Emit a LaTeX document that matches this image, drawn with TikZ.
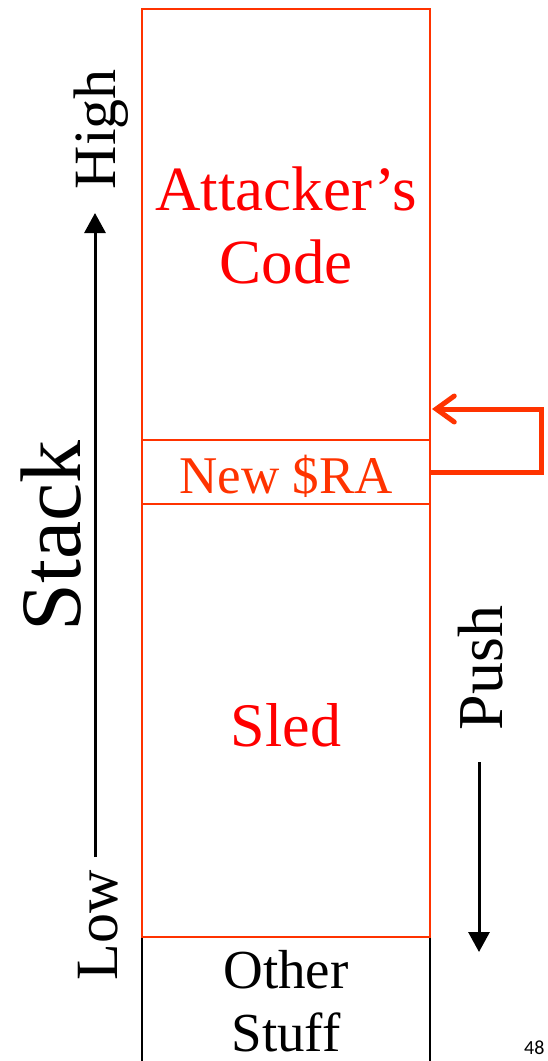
\documentclass[tikz,border=0pt]{standalone}
\usepackage{fontspec}
\setmainfont{Liberation Serif}
\newfontfamily\numfont{Carlito}
\usetikzlibrary{arrows.meta}
\definecolor{boxred}{HTML}{FF3300}
\definecolor{txtred}{HTML}{FF0000}
\tikzset{
  lbl/.style={inner sep=0pt, anchor=base},
  vlbl/.style={inner sep=0pt, anchor=base, rotate=90},
  axis/.style={line width=3pt, -{Triangle[length=20pt,width=21pt]}},
  cell/.style={draw=boxred, line width=2.7pt},
}
\begin{document}
\begin{tikzpicture}[x=1pt,y=-1pt]
\useasboundingbox (0,0) rectangle (548,1061);
\clip (0,0) rectangle (548,1061);
% other stuff (black)
\draw[line width=2.5pt] (142,937) -- (142,1070);
\draw[line width=2.5pt] (430,937) -- (430,1070);
% red cells
\draw[cell] (142,9) rectangle (430,440);
\draw[cell] (142,440) rectangle (430,504);
\draw[cell] (142,504) rectangle (430,937);
\coordinate (raR) at (430,472);
\coordinate (tgt) at (432,409);
\draw[boxred, line width=5pt, line join=miter, -{Straight Barb[length=18pt,width=26pt,line cap=round]}]
  (raR) -- (541,472) -- (541,409) -- (tgt);
% texts
\node[lbl, font=\fontsize{63}{63}\selectfont, text=txtred] (att) at (286,210) {Attacker’s};
\node[lbl, font=\fontsize{63}{63}\selectfont, text=txtred] (code) at (286,283) {Code};
\node[lbl, font=\fontsize{53}{53}\selectfont, text=boxred] (ra) at (286,493) {New \$RA};
\node[lbl, font=\fontsize{62}{62}\selectfont, text=txtred] (sled) at (286,746) {Sled};
\node[lbl, font=\fontsize{55}{55}\selectfont] (other) at (286,988) {Other};
\node[lbl, font=\fontsize{55}{55}\selectfont] (stuff) at (286,1051) {Stuff};
% left axis
\node[vlbl, font=\fontsize{60}{60}\selectfont] (high) at (115,129) {High};
\node[vlbl, font=\fontsize{60}{60}\selectfont] (low) at (117,925) {Low};
\node[vlbl, font=\fontsize{86}{86}\selectfont] (stack) at (80,536) {Stack};
\coordinate (lowtop) at (95,857);
\coordinate (hightip) at (95,213);
\draw[axis] (lowtop) -- (hightip);
% push
\node[vlbl, font=\fontsize{64}{64}\selectfont] (push) at (502,668) {Push};
\coordinate (pushtop) at (479,762);
\coordinate (pushtip) at (479,952);
\draw[axis] (pushtop) -- (pushtip);
% slide number
\node[inner sep=0pt, anchor=north west, font=\numfont\fontsize{20}{20}\selectfont] (num) at (524,1041) {48};
\end{tikzpicture}
\end{document}
